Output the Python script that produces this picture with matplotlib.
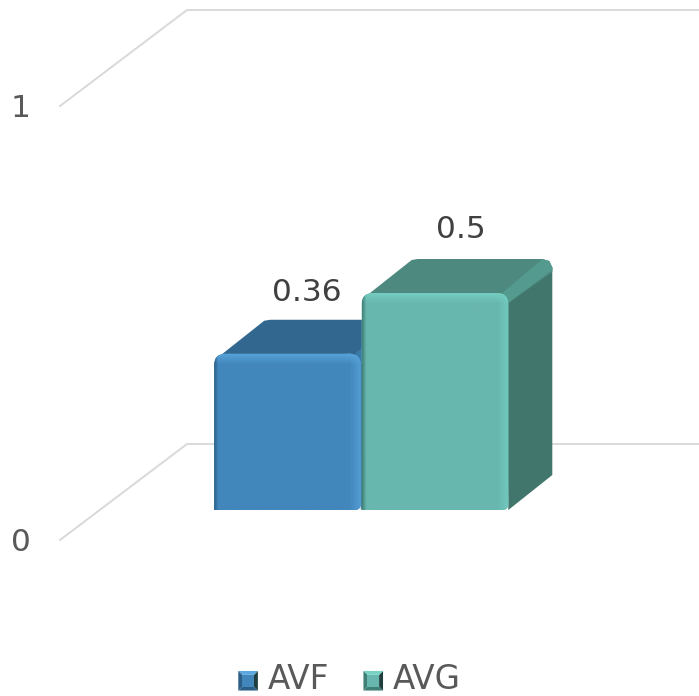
import numpy as np
import matplotlib
matplotlib.use("Agg")
import matplotlib.pyplot as plt
from matplotlib.legend_handler import HandlerBase
from matplotlib.patches import Polygon, Rectangle, Patch, PathPatch
from matplotlib.path import Path
from matplotlib.colors import to_rgb

categories = ["AVF", "AVG"]
values = [0.36, 0.5]
value_labels = ["0.36", "0.5"]
y_ticks = [0, 1]
y_tick_labels = ["0", "1"]

front_colors = ["#4287BC", "#68B7AF"]
top_colors = ["#32678F", "#4E897F"]
edge_colors = ["#3A7AA8", "#559A8E"]
side_colors = ["#33688F", "#41766D"]
light_colors = ["#5BA8DE", "#78D2C4"]
dark_colors = ["#2B5F88", "#3F7F76"]
text_color = "#595959"
label_color = "#404040"
grid_color = "#D9D9D9"

W, H = 699, 696
PX_X = 147.5   # pixels per category
PX_Y = 434.0   # pixels per value unit
X0, Y0 = 287.5, 510.0

fig = plt.figure(figsize=(W / 100, H / 100), dpi=100)
ax = fig.add_axes([0, 0, 1, 1])

def dx(p): return p / PX_X
def dy(p): return p / PX_Y

# 3D gridlines and tick labels
for t, lab in zip(y_ticks, y_tick_labels):
    y_front = t + dy(-30)
    y_back = t + dy(66)
    x_front = dx(60 - X0)
    x_back = dx(187 - X0)
    ax.plot([x_front, x_back, dx(W - X0)], [y_front, y_back, y_back],
            color=grid_color, lw=1.4, zorder=1, solid_joinstyle="miter")
    ax.text(dx(20.5 - X0), y_front - dy(2.5), lab, color=text_color, fontsize=22.5,
            ha="center", va="center", zorder=5)

def bevel_image(front, light, dark, w, h):
    base = np.array(to_rgb(front))
    li = np.array(to_rgb(light))
    da = np.array(to_rgb(dark))
    yy, xx = np.mgrid[0:h, 0:w]
    top = np.clip(1 - yy / 11.0, 0, 1)[..., None]
    right = np.clip(1 - (w - 1 - xx) / 11.0, 0, 1)[..., None]
    left = np.clip(1 - xx / 4.0, 0, 1)[..., None]
    img = np.ones((h, w, 3)) * base
    img = img * (1 - 0.85 * top) + li * 0.85 * top
    img = img * (1 - 0.65 * right) + li * 0.65 * right
    img = img * (1 - 0.9 * left) + da * 0.9 * left
    return img

for i, (cat, v) in enumerate(zip(categories, values)):
    x0, x1 = i - 0.497, i + 0.497
    z = 2 + 2 * i
    back_top = v + dy(34)
    # right side face
    ax.add_patch(Polygon([(x1 - dx(2), v - dy(8)), (x1 + dx(44), back_top - dy(8)),
                          (x1 + dx(44), dy(35)), (x1, 0)],
                         closed=True, fc=side_colors[i], ec="none", zorder=z))
    # top face with softened back corners
    ax.add_patch(Polygon([(x0 + dx(2), v - dy(5)), (x0 + dx(50), back_top - dy(1)),
                          (x0 + dx(56), back_top), (x1 + dx(34), back_top),
                          (x1 + dx(41), back_top - dy(2)), (x1 + dx(44), back_top - dy(9)),
                          (x1 + dx(44), back_top - dy(13)), (x1, v - dy(10)), (x1 - dx(10), v)],
                         closed=True, fc=top_colors[i], ec="none", zorder=z))
    # lighter bevel along the top-right diagonal edge
    ax.add_patch(Polygon([(x1 - dx(6), v), (x1 + dx(34), back_top), (x1 + dx(41), back_top - dy(2)),
                          (x1 + dx(44), back_top - dy(8)), (x1 + dx(44), back_top - dy(11)), (x1, v - dy(10))],
                         closed=True, fc=edge_colors[i], ec="none", zorder=z))
    # front face: rounded rectangle with bevel shading
    w_px, h_px = int((x1 - x0) * PX_X), int(v * PX_Y)
    rx, ry = dx(11), dy(11)
    sx, sy = dx(6), dy(6)
    a, b, c, d = x0, x1, 0.0, v
    path = Path([(a, c), (b - sx, c), (b, c), (b, c + sy), (b, d - ry), (b, d), (b - rx, d),
                 (a + rx, d), (a, d), (a, d - ry), (a, c)],
                [Path.MOVETO, Path.LINETO, Path.CURVE3, Path.CURVE3, Path.LINETO,
                 Path.CURVE3, Path.CURVE3, Path.LINETO, Path.CURVE3, Path.CURVE3,
                 Path.CLOSEPOLY])
    patch = PathPatch(path, fc=front_colors[i], ec="none", zorder=z + 1)
    ax.add_patch(patch)
    im = ax.imshow(bevel_image(front_colors[i], light_colors[i], dark_colors[i], w_px, h_px),
                   extent=(x0, x1, 0, v), origin="upper", aspect="auto",
                   zorder=z + 1, interpolation="bilinear")
    im.set_clip_path(patch)
    ax.text(i + dx(19 if i == 0 else 26), v + dy(61 if i == 0 else 64), value_labels[i],
            color=label_color, fontsize=22.5, ha="center", va="center", zorder=8)

ax.set_xlim(-X0 / PX_X, (W - X0) / PX_X)
ax.set_ylim((Y0 - H) / PX_Y, Y0 / PX_Y)
ax.set_aspect("auto")
ax.axis("off")

class BevelHandler(HandlerBase):
    def __init__(self, front, light, dark):
        super().__init__()
        self.c = (front, light, dark)

    def create_artists(self, legend, orig, xd, yd, width, height, fontsize, trans):
        front, light, dark = self.c
        s = min(width, height)
        x = -xd
        y = -yd
        t = s * 0.2
        arts = [
            Polygon([(x, y), (x + s, y), (x + s - t, y + t), (x + t, y + t)], fc=dark, ec="none"),
            Polygon([(x + s, y), (x + s, y + s), (x + s - t, y + s - t), (x + s - t, y + t)], fc="#1F3F3F", ec="none"),
            Polygon([(x, y + s), (x + s, y + s), (x + s - t, y + s - t), (x + t, y + s - t)], fc=light, ec="none"),
            Polygon([(x, y), (x, y + s), (x + t, y + s - t), (x + t, y + t)], fc=dark, ec="none"),
            Rectangle((x + t, y + t), s - 2 * t, s - 2 * t, fc=front, ec="none"),
        ]
        for a in arts:
            a.set_transform(trans)
        return arts

handles = [Patch(label=c) for c in categories]
hmap = {h: BevelHandler(front_colors[i], light_colors[i], dark_colors[i]) for i, h in enumerate(handles)}
leg = ax.legend(handles=handles, handler_map=hmap, ncol=2, frameon=False, fontsize=23.5,
                labelcolor=text_color, loc="lower center", bbox_to_anchor=(0.5, -0.024),
                bbox_transform=ax.transAxes, handlelength=0.6, handleheight=0.8,
                handletextpad=0.3, columnspacing=1.05, borderpad=0)
leg.set_zorder(9)

fig.savefig("out.png", dpi=100)
